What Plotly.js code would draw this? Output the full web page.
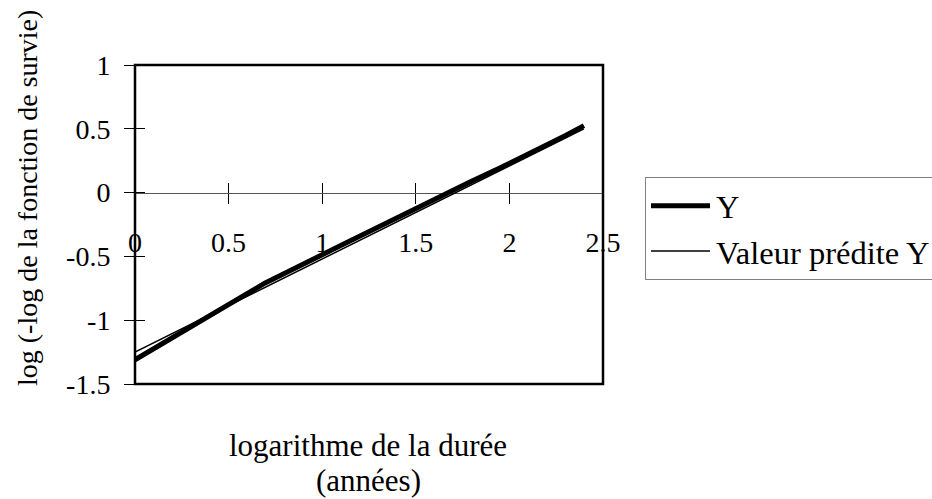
<!DOCTYPE html>
<html>
<head>
<meta charset="utf-8">
<script src="https://cdn.plot.ly/plotly-3.0.1.min.js"></script>
<style>
  html, body { margin: 0; padding: 0; background: #ffffff; }
  #chart { width: 932px; height: 499px; }
</style>
</head>
<body>
<div id="chart"></div>
<script>
// Log of duration (years) at each observed time
const logDuree = [0, 0.693, 1.099, 1.386, 1.609, 1.792, 1.946, 2.079, 2.197, 2.303, 2.398];
// Observed log(-log S(t))
const yObserve = [-1.31, -0.71, -0.415, -0.205, -0.045, 0.085, 0.19, 0.285, 0.37, 0.45, 0.525];
// Fitted values from the regression
const yPredit = [-1.25, -0.744, -0.448, -0.238, -0.076, 0.058, 0.170, 0.267, 0.353, 0.431, 0.500];
const seriesNames = ['Y', 'Valeur prédite Y'];
const xTickVals = [0, 0.5, 1, 1.5, 2, 2.5];
const xTickText = ['0', '0.5', '1', '1.5', '2', '2.5'];
const yTickVals = [-1.5, -1, -0.5, 0, 0.5, 1];
const yTickText = ['-1.5', '-1', '-0.5', '0', '0.5', '1'];
const xTitleLines = ['logarithme de la durée', '(années)'];
const yTitle = 'log (-log de la fonction de survie)';

const FONT = 'Liberation Serif, Times New Roman, serif';
const W = 932, H = 499;
const M = { l: 135, r: 329, t: 65, b: 115 };
const plotW = W - M.l - M.r;
const plotH = H - M.t - M.b;
const xRange = [0, 2.5];
const yRange = [-1.5, 1];
// the horizontal axis crosses at y = 0
const xCross = (0 - yRange[0]) / (yRange[1] - yRange[0]);

// helpers: pixel position on the page -> paper fraction
const px = v => (v - M.l) / plotW;
const py = v => (H - M.b - v) / plotH;

const traces = [
  {
    x: logDuree, y: yObserve, name: seriesNames[0],
    type: 'scatter', mode: 'lines',
    line: { color: '#000000', width: 5 }
  },
  {
    x: logDuree, y: yPredit, name: seriesNames[1],
    type: 'scatter', mode: 'lines',
    line: { color: '#000000', width: 1.5 }
  },
  // carrier for the overlaid tick axes (draws nothing)
  {
    x: logDuree, y: yPredit, xaxis: 'x2', yaxis: 'y2',
    type: 'scatter', mode: 'none', showlegend: false, hoverinfo: 'skip'
  }
];

const layout = {
  width: W, height: H,
  margin: { l: M.l, r: M.r, t: M.t, b: M.b, pad: 0, autoexpand: false },
  paper_bgcolor: '#ffffff', plot_bgcolor: '#ffffff',
  font: { family: FONT, color: '#000000', size: 28 },
  showlegend: true,
  legend: {
    x: px(645), xanchor: 'left',
    y: py(177), yanchor: 'top',
    bgcolor: '#ffffff', bordercolor: '#808080', borderwidth: 1,
    font: { family: FONT, size: 32.5, color: '#000000' },
    itemwidth: 60, tracegroupgap: 0
  },
  // horizontal axis drawn along y = 0, ticks hanging below
  xaxis: {
    range: xRange, anchor: 'free', position: xCross,
    tickvals: xTickVals, ticktext: xTickText,
    ticks: 'outside', ticklen: 10, tickwidth: 1, tickcolor: '#000000',
    ticklabelstandoff: 15,
    showline: true, linecolor: '#555555', linewidth: 1,
    showgrid: false, zeroline: false, fixedrange: true,
    layer: 'below traces',
    tickfont: { family: FONT, size: 28, color: '#000000' }
  },
  // same axis, upper half of the crossing ticks
  xaxis2: {
    range: xRange, overlaying: 'x', anchor: 'free', position: xCross,
    tickvals: xTickVals, showticklabels: false,
    ticks: 'inside', ticklen: 10, tickwidth: 1, tickcolor: '#000000',
    showline: false, showgrid: false, zeroline: false, fixedrange: true,
    layer: 'below traces'
  },
  yaxis: {
    range: yRange,
    tickvals: yTickVals, ticktext: yTickText,
    ticks: 'outside', ticklen: 10, tickwidth: 1, tickcolor: '#000000',
    ticklabelstandoff: 8,
    showline: false,
    showgrid: false, zeroline: false, fixedrange: true,
    tickfont: { family: FONT, size: 28, color: '#000000' }
  },
  // inner half of the crossing ticks on the vertical axis
  yaxis2: {
    range: yRange, overlaying: 'y', side: 'left', anchor: 'x',
    tickvals: yTickVals, showticklabels: false,
    ticks: 'inside', ticklen: 10, tickwidth: 1, tickcolor: '#000000',
    showline: false, showgrid: false, zeroline: false, fixedrange: true
  },
  // plot-area frame
  shapes: [
    {
      type: 'rect', xref: 'paper', yref: 'paper',
      x0: 0, x1: 1, y0: 0, y1: 1,
      line: { color: '#000000', width: 2.5 },
      fillcolor: 'rgba(0,0,0,0)', layer: 'above'
    }
  ],
  annotations: [
    {
      text: yTitle, textangle: -90,
      xref: 'paper', yref: 'paper',
      x: px(28), y: py(198),
      xanchor: 'center', yanchor: 'middle', showarrow: false,
      font: { family: FONT, size: 28, color: '#000000' }
    },
    {
      text: xTitleLines[0],
      xref: 'paper', yref: 'paper',
      x: px(368), y: py(446),
      xanchor: 'center', yanchor: 'middle', showarrow: false,
      font: { family: FONT, size: 31, color: '#000000' }
    },
    {
      text: xTitleLines[1],
      xref: 'paper', yref: 'paper',
      x: px(368), y: py(480),
      xanchor: 'center', yanchor: 'middle', showarrow: false,
      font: { family: FONT, size: 31, color: '#000000' }
    }
  ]
};

Plotly.newPlot('chart', traces, layout, { displayModeBar: false, staticPlot: true })
  .then(function () {
    // longer line samples in the legend
    document.querySelectorAll('#chart .legend .legendlines path').forEach(function (p) {
      p.setAttribute('d', 'M5,0h59');
    });
  });
</script>
</body>
</html>
